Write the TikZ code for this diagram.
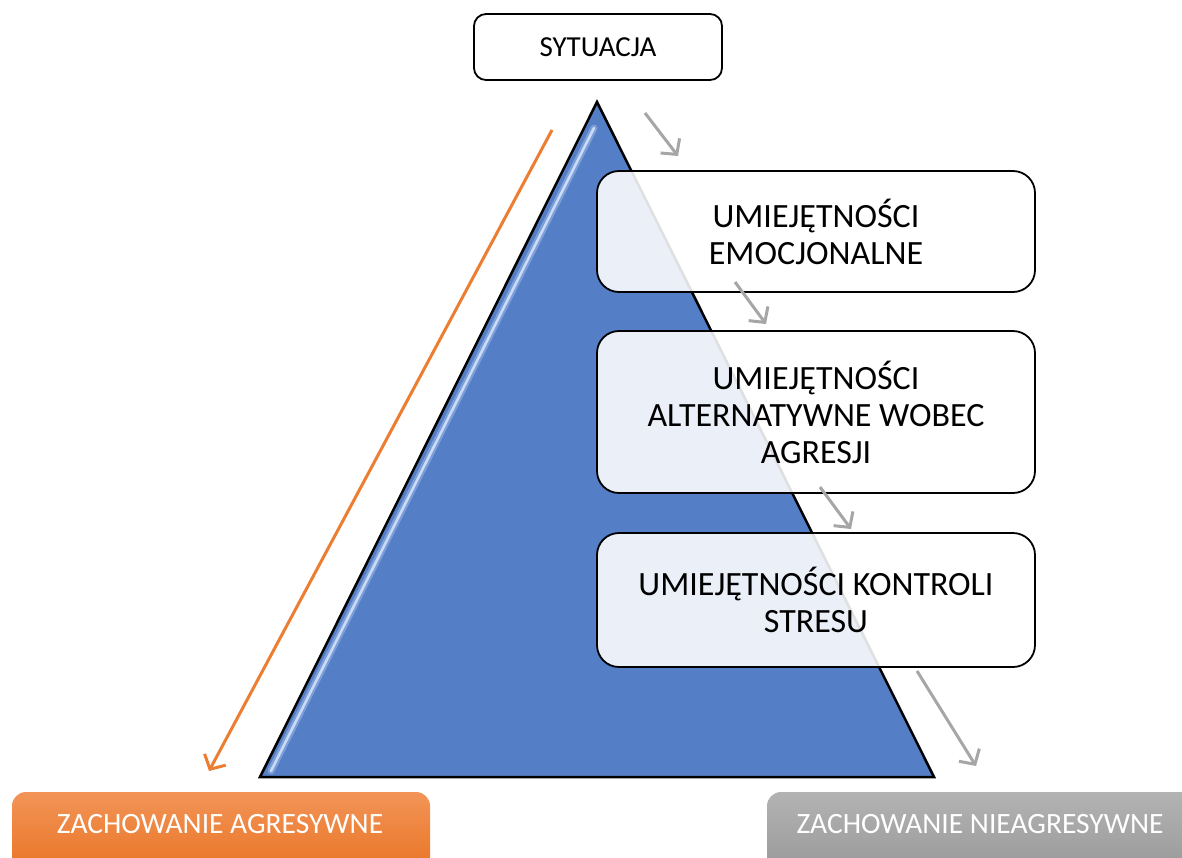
\documentclass[tikz,border=0pt]{standalone}
\usepackage{fontspec}
\setmainfont{Carlito}
\usetikzlibrary{arrows.meta}
\definecolor{triblue}{HTML}{547EC6}
\definecolor{arrgray}{HTML}{A6A6A6}
\definecolor{arrorange}{HTML}{ED7D31}
\definecolor{orangetop}{HTML}{F29457}
\definecolor{orangebot}{HTML}{E8701E}
\definecolor{graytop}{HTML}{B3B3B3}
\definecolor{graybot}{HTML}{969696}
\definecolor{hilite}{HTML}{DDEBFF}
\tikzset{
  skillbox/.style={draw=black, line width=1.8pt, rounded corners=22pt,
    fill=white, fill opacity=0.88, text opacity=1, align=center,
    minimum width=438pt, font=\fontsize{34}{37}\selectfont},
  topbox/.style={draw=black, line width=1.8pt, rounded corners=12pt, fill=white,
    minimum width=248pt, minimum height=66pt, font=\fontsize{29}{32}\selectfont},
  resultbox/.style={rounded corners=14pt, text=white, minimum height=90pt,
    font=\fontsize{29}{32}\selectfont},
  grayarrow/.style={draw=arrgray, line width=3pt,
    -{Straight Barb[length=11pt,width=24pt,line width=3pt]}},
  orangearrow/.style={draw=arrorange, line width=3pt,
    -{Straight Barb[length=11pt,width=24pt,line width=3pt]}}
}
\begin{document}
\begin{tikzpicture}[x=1pt,y=-1pt]
\clip (0,0) rectangle (1182,857);
\fill[white] (0,0) rectangle (1182,857);

% triangle
\coordinate (apex) at (597,102);
\coordinate (bl) at (260,777);
\coordinate (br) at (934,777);
\fill[triblue] (apex) -- (br) -- (bl) -- cycle;
\draw[hilite, line width=7pt, opacity=0.3, line cap=round] (594,128) -- (271,771);
\draw[hilite, line width=2.5pt, opacity=0.8, line cap=round] (594,128) -- (271,771);
\draw[black, line width=2.5pt, line join=miter] (apex) -- (br) -- (bl) -- cycle;

% top box
\node[topbox] (sit) at (598,47) {SYTUACJA};

% skill boxes
\node[skillbox, minimum height=121pt] (emo) at (816,231.5) {UMIEJĘTNOŚCI\\EMOCJONALNE};
\node[skillbox, minimum height=162pt] (alt) at (816,412) {UMIEJĘTNOŚCI\\ALTERNATYWNE WOBEC\\AGRESJI};
\node[skillbox, minimum height=134pt] (str) at (816,600) {UMIEJĘTNOŚCI KONTROLI\\STRESU};

% result boxes
\node[resultbox, minimum width=418pt, top color=orangetop, bottom color=orangebot] (agr) at (221,837) {};
\node[text=white, font=\fontsize{29.5}{32}\selectfont] (agrt) at (220,824) {ZACHOWANIE AGRESYWNE};
\node[resultbox, minimum width=426pt, top color=graytop, bottom color=graybot] (nagr) at (980,837) {};
\node[text=white, font=\fontsize{29.5}{32}\selectfont] (nagrt) at (980,824) {ZACHOWANIE NIEAGRESYWNE};

% arrows
\coordinate (g1s) at (645,113); \coordinate (g1e) at (678,156);
\coordinate (g2s) at (735,282); \coordinate (g2e) at (766,324);
\coordinate (g3s) at (820,487); \coordinate (g3e) at (851,529);
\coordinate (g4s) at (917,671); \coordinate (g4e) at (976,766);
\draw[grayarrow] (g1s) -- (g1e);
\draw[grayarrow] (g2s) -- (g2e);
\draw[grayarrow] (g3s) -- (g3e);
\draw[grayarrow] (g4s) -- (g4e);
\coordinate (os) at (552,130); \coordinate (oe) at (209,771);
\draw[orangearrow] (os) -- (oe);
\end{tikzpicture}
\end{document}
